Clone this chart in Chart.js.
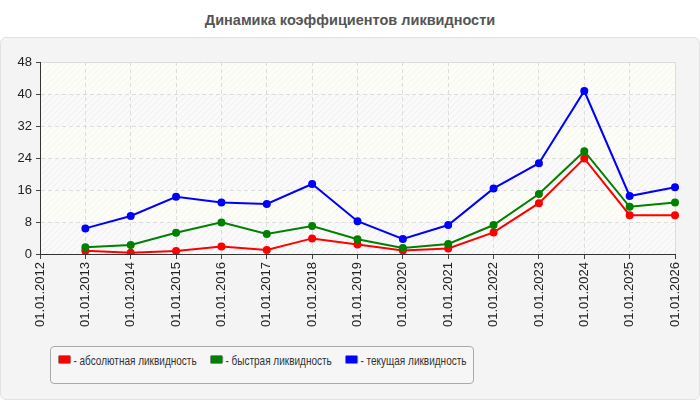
<!DOCTYPE html>
<html>
<head>
<meta charset="utf-8">
<script src="https://cdn.jsdelivr.net/npm/chart.js@4"></script>
<style>
  body { margin: 0; width: 700px; height: 400px; background: #fff; position: relative; overflow: hidden; font-family: "Liberation Sans", Arial, sans-serif; }
  #title { position: absolute; left: 0; top: 12px; width: 700px; text-align: center; font-weight: bold; font-size: 14.5px; color: #555; }
  #panel { position: absolute; left: 0; top: 37px; width: 698px; height: 361px; background: #f4f4f4; border: 1px solid #e2e2e2; border-radius: 6px; }
  #c { position: absolute; left: 0; top: 0; }
  #legend { position: absolute; left: 50px; top: 346px; width: 422px; height: 36px; border: 1px solid #aaa; border-radius: 4px; background: #f6f6f6; }
  .item { position: absolute; top: 6px; font-size: 13px; color: #333; white-space: nowrap; transform: scaleX(0.77); transform-origin: 0 50%; }
  .sw { display: inline-block; width: 15px; height: 7px; border: 1px solid #888; border-radius: 2px; vertical-align: 1px; margin-right: 3px; }
</style>
</head>
<body>
<div id="title">Динамика коэффициентов ликвидности</div>
<div id="panel"></div>
<canvas id="c" width="700" height="400"></canvas>
<div id="legend"></div>
<script>
const dates = ['01.01.2012', '01.01.2013', '01.01.2014', '01.01.2015', '01.01.2016', '01.01.2017', '01.01.2018',
  '01.01.2019', '01.01.2020', '01.01.2021', '01.01.2022', '01.01.2023', '01.01.2024', '01.01.2025', '01.01.2026'];
const absolutnaya = [null, 0.8, 0.3, 0.75, 1.9, 1.0, 3.9, 2.4, 0.9, 1.4, 5.4, 12.7, 23.9, 9.7, 9.7];
const bystraya = [null, 1.7, 2.25, 5.3, 7.9, 5.0, 7.0, 3.7, 1.5, 2.5, 7.25, 15.0, 25.7, 11.8, 12.9];
const tekushaya = [null, 6.4, 9.5, 14.3, 12.9, 12.5, 17.5, 8.2, 3.75, 7.25, 16.4, 22.7, 40.75, 14.5, 16.7];
const seriesNames = ['- абсолютная ликвидность', '- быстрая ликвидность', '- текущая ликвидность'];
const seriesColors = ['#ff0000', '#008000', '#0000ff'];
const yTicks = [0, 8, 16, 24, 32, 40, 48];

function makeHatch(bg, line) {
  const p = document.createElement('canvas');
  p.width = 6; p.height = 6;
  const g = p.getContext('2d');
  g.fillStyle = bg; g.fillRect(0, 0, 6, 6);
  g.strokeStyle = line; g.lineWidth = 1;
  g.beginPath(); g.moveTo(0, 6); g.lineTo(6, 0); g.moveTo(-1, 1); g.lineTo(1, -1); g.moveTo(5, 7); g.lineTo(7, 5); g.stroke();
  return p;
}

const plotBg = {
  id: 'plotBg',
  beforeDraw(chart) {
    const { ctx, chartArea: a, scales: { y } } = chart;
    const light = ctx.createPattern(makeHatch('#fdfdf7', '#f6f6f0'), 'repeat');
    const gray = ctx.createPattern(makeHatch('#fafafa', '#eeeeee'), 'repeat');
    ctx.save();
    for (let i = 0; i < yTicks.length - 1; i++) {
      const top = y.getPixelForValue(yTicks[i + 1]);
      const bot = y.getPixelForValue(yTicks[i]);
      ctx.fillStyle = (yTicks.length - 2 - i) % 2 === 0 ? light : gray;
      ctx.fillRect(a.left, top, a.right - a.left, bot - top);
    }
    ctx.strokeStyle = '#dcdcdc';
    ctx.lineWidth = 1;
    ctx.beginPath();
    ctx.moveTo(a.left, a.top + 0.5); ctx.lineTo(a.right + 0.5, a.top + 0.5); ctx.lineTo(a.right + 0.5, a.bottom);
    ctx.stroke();
    ctx.restore();
  }
};

const sets = [absolutnaya, bystraya, tekushaya].map((d, i) => ({
  label: seriesNames[i],
  data: d,
  borderColor: seriesColors[i],
  backgroundColor: seriesColors[i],
  borderWidth: 2,
  pointRadius: 3,
  pointHoverRadius: 3,
  tension: 0
}));

new Chart(document.getElementById('c'), {
  type: 'line',
  data: { labels: dates, datasets: sets.reverse() },
  plugins: [plotBg],
  options: {
    responsive: false,
    animation: false,
    devicePixelRatio: 1,
    layout: { padding: { top: 62, right: 25, left: 0, bottom: 0 } },
    plugins: { legend: { display: false }, title: { display: false }, tooltip: { enabled: false } },
    scales: {
      x: {
        offset: false,
        afterFit(s) { s.height = 146; s.paddingLeft = 0; s.paddingRight = 0; },
        ticks: { autoSkip: false, minRotation: 90, maxRotation: 90, color: '#222', padding: 3, font: { family: 'Liberation Sans', size: 13 } },
        grid: { color: '#dddddd', tickColor: '#444', tickLength: 5, drawOnChartArea: true },
        border: { color: '#333', width: 1, dash: [4, 3] }
      },
      y: {
        min: 0, max: 48,
        afterFit(s) { s.width = 40; s.paddingTop = 0; s.paddingBottom = 0; },
        afterBuildTicks(s) { s.ticks = yTicks.map(v => ({ value: v })); },
        ticks: { color: '#222', padding: 4, font: { family: 'Liberation Sans', size: 13 } },
        grid: { color: '#dddddd', tickColor: '#444', tickLength: 4 },
        border: { color: '#333', width: 1, dash: [4, 3] }
      }
    }
  }
});

const leg = document.getElementById('legend');
const lefts = [7, 159, 294];
seriesNames.forEach((n, i) => {
  const el = document.createElement('div');
  el.className = 'item';
  el.style.left = lefts[i] + 'px';
  el.innerHTML = '<span class="sw" style="background:' + seriesColors[i] + '"></span>' + n;
  leg.appendChild(el);
});
</script>
</body>
</html>
